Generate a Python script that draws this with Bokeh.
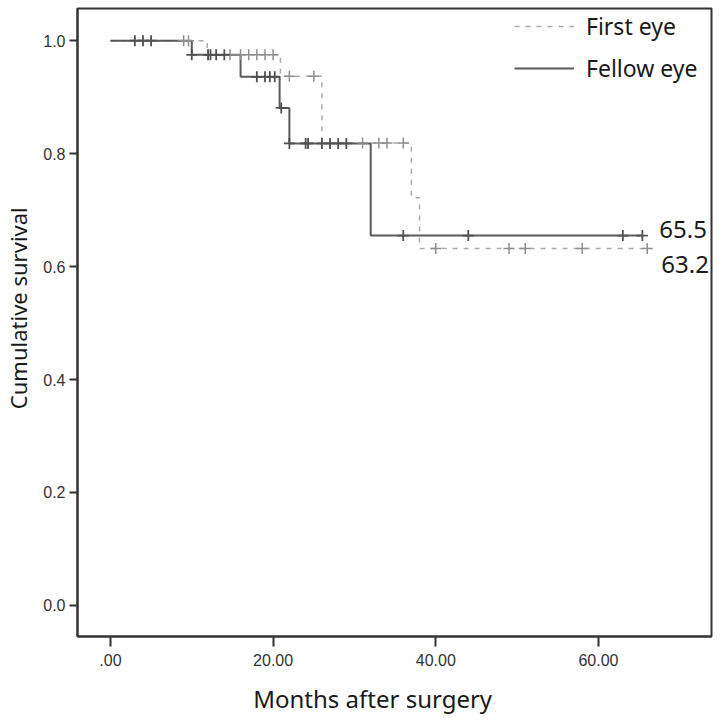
import bisect
from bokeh.plotting import figure
from bokeh.models import (FixedTicker, Legend, LegendItem, ColumnDataSource,
                          Range1d)
from bokeh.core.properties import value
from bokeh.embed import file_html
from bokeh.resources import INLINE

# ---- data ----
fellow_times = [0, 10, 16, 20.8, 22, 32, 65.4]
fellow_surv = [1.0, 0.975, 0.936, 0.881, 0.818, 0.655, 0.655]
fellow_censor_t = [3, 4, 5, 10, 12, 12.3, 13, 14, 18, 19, 19.6, 20.2, 21,
                   22, 24, 24.3, 26, 27, 28, 29, 36, 44, 63, 65.4]

first_times = [0, 11.9, 20.9, 26, 37, 38, 66]
first_surv = [1.0, 0.975, 0.937, 0.819, 0.722, 0.632, 0.632]
first_censor_t = [9, 9.6, 12, 14.7, 16, 17, 18, 19, 20, 22, 25, 31, 33, 34,
                  36, 40, 49, 51, 58, 66]

end_labels = ["65.5", "63.2"]
x_ticks = [0, 20, 40, 60]
x_tick_labels = [".00", "20.00", "40.00", "60.00"]
y_ticks = [0.0, 0.2, 0.4, 0.6, 0.8, 1.0]
y_tick_labels = ["0.0", "0.2", "0.4", "0.6", "0.8", "1.0"]
x_title = "Months after surgery"
y_title = "Cumulative survival"


def surv_at(times, surv, t):
    i = bisect.bisect_right(times, t) - 1
    return surv[max(i, 0)]


LABEL_FONT = "Noto Sans"
TICK_FONT = "Liberation Sans"
FELLOW_COLOR = "#5a5a5a"
FIRST_COLOR = "#ababab"
NBSP = "\u00a0"

p = figure(width=716, height=718, output_backend="svg", toolbar_location=None,
           x_range=Range1d(-4.05, 73.9), y_range=Range1d(-0.055, 1.057),
           min_border_left=76, min_border_right=5, min_border_top=8,
           min_border_bottom=82)

p.xgrid.visible = False
p.ygrid.visible = False
p.outline_line_color = "#333333"
p.outline_line_width = 2
p.background_fill_color = "white"
p.border_fill_color = "white"

# curves
first_r = p.step(first_times, first_surv, mode="after", line_color=FIRST_COLOR,
                 line_width=1.5, line_dash="5 6")
fellow_r = p.step(fellow_times, fellow_surv, mode="after",
                  line_color=FELLOW_COLOR, line_width=2)

# censor marks
first_cy = [surv_at(first_times, first_surv, t) for t in first_censor_t]
fellow_cy = [surv_at(fellow_times, fellow_surv, t) for t in fellow_censor_t]
p.scatter(first_censor_t, first_cy, marker="cross", size=11,
          line_color="#8f8f8f", line_width=1.5)
p.scatter(fellow_censor_t, fellow_cy, marker="cross", size=11,
          line_color="#505050", line_width=1.8)

# end labels
lab_src = ColumnDataSource(dict(
    x=[fellow_censor_t[-1], first_censor_t[-1]],
    y=[fellow_surv[-1], first_surv[-1]],
    text=end_labels,
    xo=[17, 14],
    yo=[-6, 16],
))
p.text(x="x", y="y", text="text", x_offset="xo", y_offset="yo", source=lab_src,
       text_font=value(LABEL_FONT), text_font_size=value("24px"),
       text_color="#1a1a1a", text_baseline="middle", text_align="left")

# legend
legend = Legend(items=[LegendItem(label="First eye", renderers=[first_r]),
                       LegendItem(label="Fellow eye", renderers=[fellow_r])],
                location="top_right", margin=0, padding=2, spacing=10,
                glyph_width=60, glyph_height=26, label_height=26,
                label_width=123, label_standoff=12, border_line_alpha=0,
                background_fill_alpha=0,
                label_text_font=LABEL_FONT, label_text_font_size="23px",
                label_text_color="#1a1a1a")
p.add_layout(legend)

# axes
xa = p.xaxis[0]
xa.ticker = FixedTicker(ticks=x_ticks)
xa.major_label_overrides = {t: l for t, l in zip(x_ticks, x_tick_labels)}
xa.minor_tick_line_color = None
xa.major_tick_in = 0
xa.major_tick_out = 10
xa.major_tick_line_width = 2
xa.major_tick_line_color = "#333333"
xa.axis_line_color = "#333333"
xa.axis_line_width = 2
xa.major_label_standoff = 7
xa.major_label_text_font = TICK_FONT
xa.major_label_text_font_size = "16px"
xa.major_label_text_color = "#333333"
# the reference title sits left of the frame centre: pad with no-break spaces
xa.axis_label = x_title + NBSP * 7
xa.axis_label_text_font = LABEL_FONT
xa.axis_label_text_font_size = "24px"
xa.axis_label_text_font_style = "normal"
xa.axis_label_text_color = "#1a1a1a"
xa.axis_label_standoff = 13

ya = p.yaxis[0]
ya.ticker = FixedTicker(ticks=y_ticks)
ya.major_label_overrides = {t: l for t, l in zip(y_ticks, y_tick_labels)}
ya.minor_tick_line_color = None
ya.major_tick_in = 0
ya.major_tick_out = 8
ya.major_tick_line_width = 2
ya.major_tick_line_color = "#333333"
ya.axis_line_color = "#333333"
ya.axis_line_width = 2
ya.major_label_standoff = 4
ya.major_label_text_font = TICK_FONT
ya.major_label_text_font_size = "16px"
ya.major_label_text_color = "#333333"
ya.axis_label = NBSP * 5 + y_title
ya.axis_label_text_font = LABEL_FONT
ya.axis_label_text_font_size = "22px"
ya.axis_label_text_font_style = "normal"
ya.axis_label_text_color = "#1a1a1a"
ya.axis_label_standoff = 7

open("out.html", "w").write(file_html(p, INLINE))
